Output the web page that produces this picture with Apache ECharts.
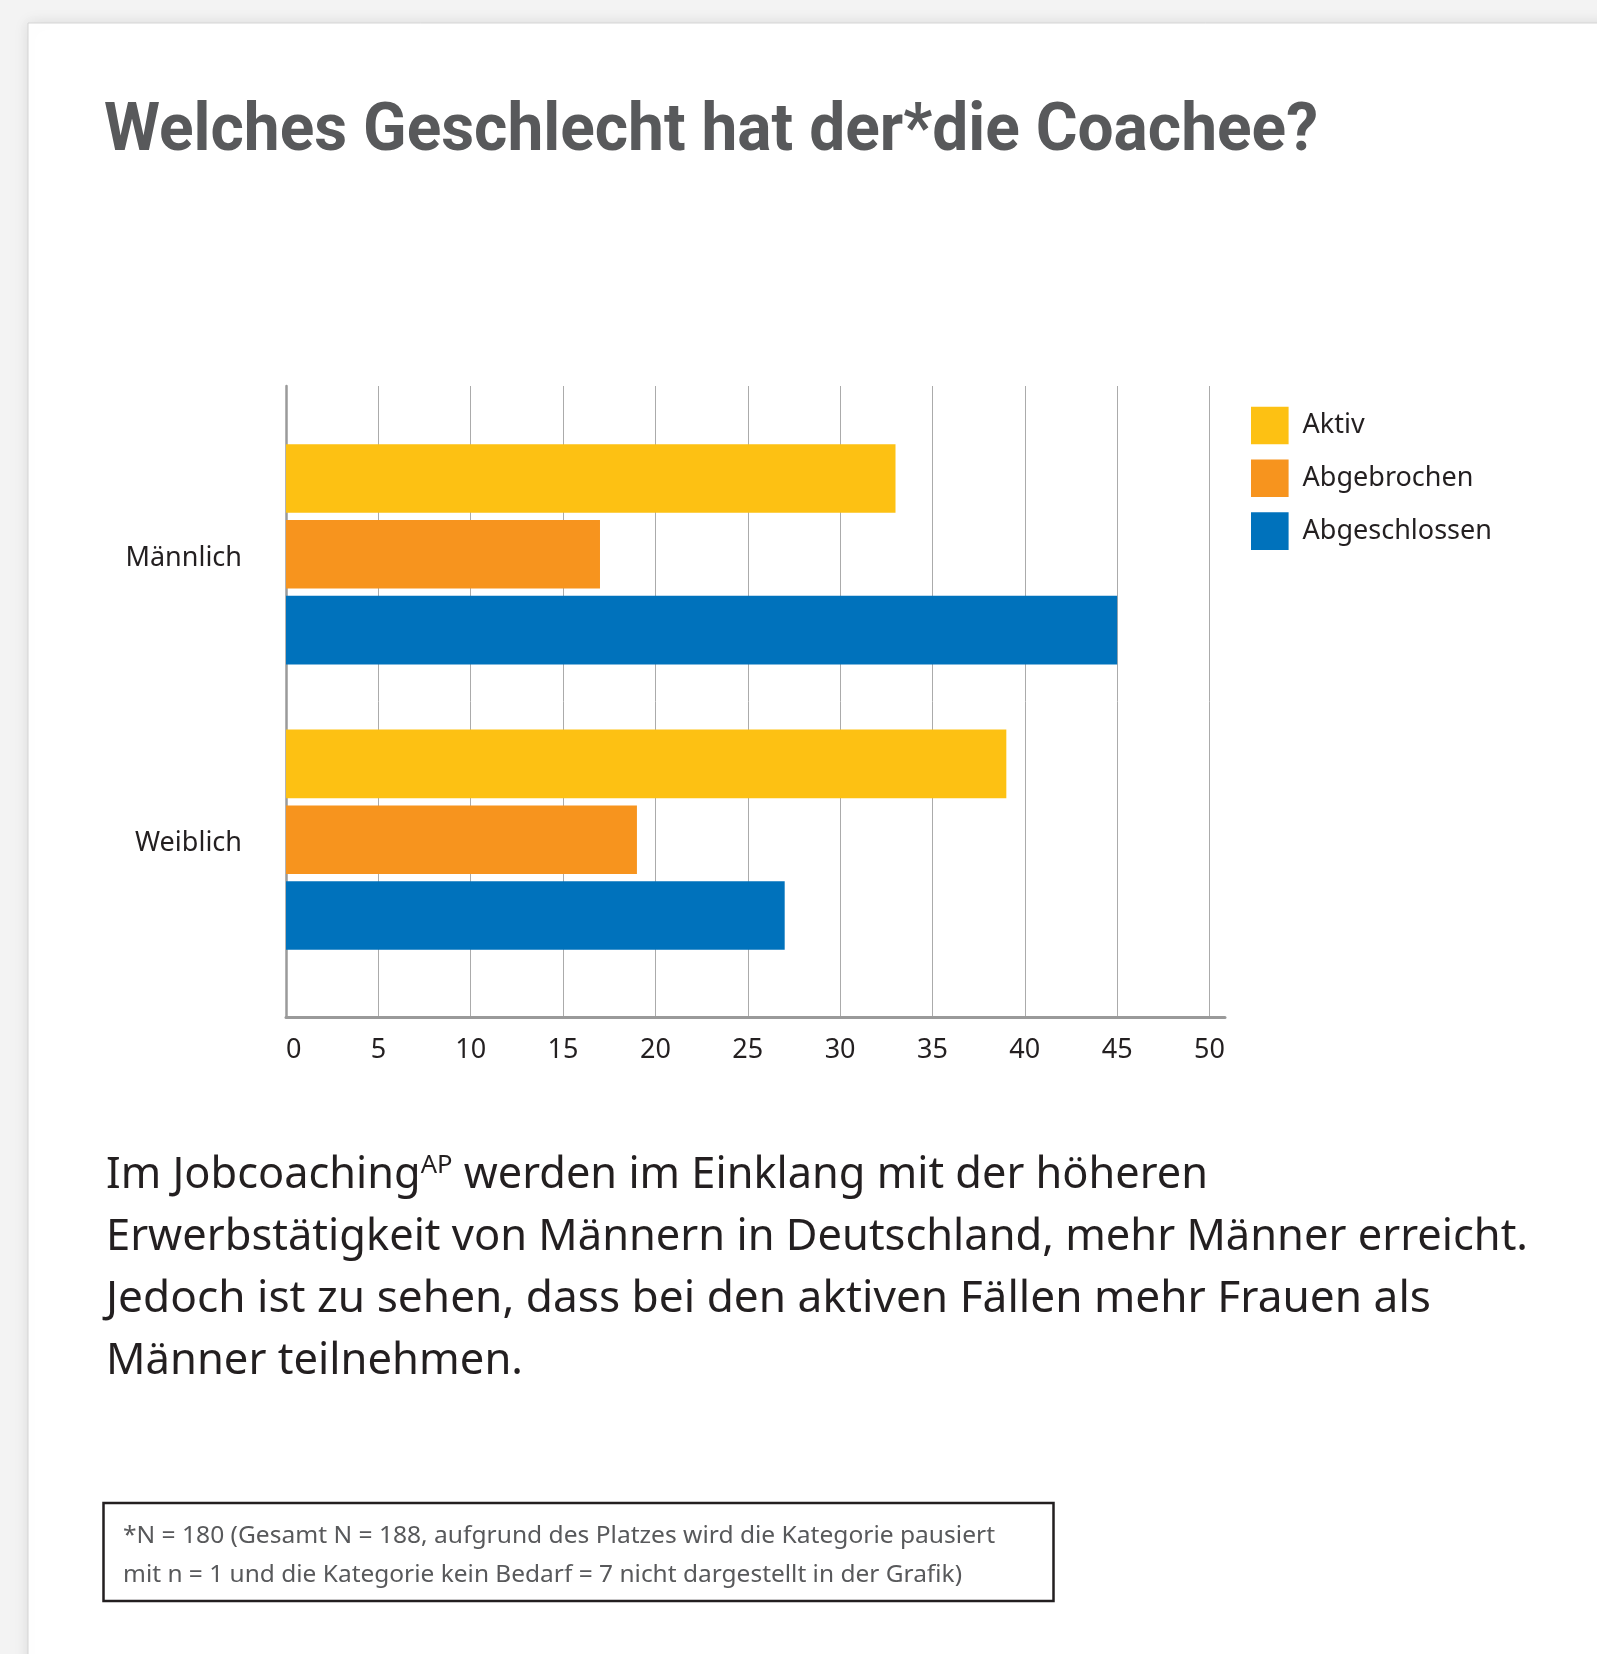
<!DOCTYPE html>
<html>
<head>
<meta charset="utf-8">
<title>Welches Geschlecht hat der*die Coachee?</title>
<script src="https://cdn.jsdelivr.net/npm/echarts@6/dist/echarts.min.js"></script>
<style>
  html, body { margin: 0; padding: 0; background: #f3f3f3; }
  #chart { width: 1597px; height: 1654px; }
</style>
</head>
<body>
<div id="chart"></div>
<script>
// Daten
const categories = ['Männlich', 'Weiblich']
const seriesNames = ['Aktiv', 'Abgebrochen', 'Abgeschlossen']
const aktiv = [33, 39]
const abgebrochen = [17, 19]
const abgeschlossen = [45, 27]
const xMin = 0
const xMax = 50
const xInterval = 5

// Texte
const titleText = 'Welches Geschlecht hat der*die Coachee?'
const bodyLines = [
  ['Im Jobcoaching', 'AP', ' werden im Einklang mit der höheren'],
  ['Erwerbstätigkeit von Männern in Deutschland, mehr Männer erreicht.'],
  ['Jedoch ist zu sehen, dass bei den aktiven Fällen mehr Frauen als'],
  ['Männer teilnehmen.']
]
const noteLines = [
  '*N = 180 (Gesamt N = 188, aufgrund des Platzes wird die Kategorie pausiert',
  'mit n = 1 und die Kategorie kein Bedarf = 7 nicht dargestellt in der Grafik)'
]

const colors = ['#fdc113', '#f7941e', '#0072bc']
const textDark = '#231f20'
const textGrey = '#58595b'
const FONT = "'Noto Sans', sans-serif"
const FONT_TITLE = 'Roboto, sans-serif'

// Layout
const gridLeft = 286
const valueEnd = 1209.5 // Position von 50
const axisEnd = 1225 // Achsenlinie läuft etwas weiter
const frameTop = 386
const frameBottom = 1017
const barsTop = 411.6
const barsBottom = 982.4

// Messen von Text
const ctx = document.createElement('canvas').getContext('2d')
function fontStr (size, family, weight) {
  return (weight || 'normal') + ' ' + size + 'px ' + family
}
function measure (str, font) {
  ctx.font = font
  ctx.textBaseline = 'alphabetic'
  return ctx.measureText(str).width
}
// Abstand von "middle" zur Grundlinie
function midOffset (font) {
  ctx.font = font
  ctx.textBaseline = 'middle'
  const m = ctx.measureText('H')
  ctx.textBaseline = 'alphabetic'
  return m.actualBoundingBoxDescent
}

function fitText (str, o) {
  const font = fontStr(o.size, o.family, o.weight)
  const w = measure(str, font)
  return {
    type: 'text',
    x: o.left,
    y: o.baseline - midOffset(font),
    scaleX: o.width / w,
    style: {
      text: str,
      x: 0,
      y: 0,
      fontSize: o.size,
      fontFamily: o.family,
      fontWeight: o.weight || 'normal',
      fill: o.color,
      align: 'left',
      verticalAlign: 'middle'
    }
  }
}

// Fließtext
const bodySize = 44
const supSize = 26
const bodyLeft = 106
const bodyBaselines = [1188.3, 1250, 1312, 1373.7]
const bodyWidths = [1102, 1422, 1325, 417]
const bodyLineHeight = 60

function bodyLine (parts, i) {
  if (parts.length === 1) {
    return fitText(parts[0], { left: bodyLeft, baseline: bodyBaselines[i], width: bodyWidths[i], size: bodySize, family: FONT, color: textDark })
  }
  // Zeile mit hochgestelltem "AP"
  const fb = fontStr(bodySize, FONT)
  const fs = fontStr(supSize, FONT)
  const w = measure(parts[0], fb) + measure(parts[1], fs) + measure(parts[2], fb)
  return {
    type: 'text',
    x: bodyLeft,
    y: bodyBaselines[i] - midOffset(fb),
    scaleX: bodyWidths[i] / w,
    style: {
      text: '{b|' + parts[0] + '}{s|' + parts[1] + '}{b|' + parts[2] + '}',
      x: 0,
      y: 0,
      align: 'left',
      verticalAlign: 'middle',
      rich: {
        b: { fontSize: bodySize, fontFamily: FONT, fill: textDark, lineHeight: bodyLineHeight, verticalAlign: 'middle' },
        s: { fontSize: supSize, fontFamily: FONT, fill: textDark, verticalAlign: 'top', padding: [7, 0, 0, 0] }
      }
    }
  }
}

const graphics = [
  // Karte
  {
    type: 'rect',
    z: -10,
    shape: { x: 28, y: 23, width: 1640, height: 1700 },
    style: { fill: '#ffffff', stroke: '#d4d4d4', lineWidth: 1, shadowBlur: 14, shadowColor: 'rgba(0,0,0,0.10)' }
  },
  fitText(titleText, { left: 104, baseline: 150, width: 1214, size: 67, family: FONT_TITLE, weight: 'bold', color: textGrey }),
  // Fußnote
  {
    type: 'rect',
    shape: { x: 103.5, y: 1503, width: 950, height: 98 },
    style: { fill: 'none', stroke: textDark, lineWidth: 2.5 }
  },
  fitText(noteLines[0], { left: 123, baseline: 1543, width: 872, size: 23, family: FONT, color: textGrey }),
  fitText(noteLines[1], { left: 123, baseline: 1582, width: 839, size: 23, family: FONT, color: textGrey })
].concat(bodyLines.map(bodyLine))

const frameMax = xMax * (axisEnd - gridLeft) / (valueEnd - gridLeft)

const chart = echarts.init(document.getElementById('chart'))
const option = {
  animation: false,
  backgroundColor: '#f3f3f3',
  textStyle: { fontFamily: FONT },
  legend: {
    orient: 'vertical',
    left: 1251,
    top: 406.7,
    padding: 0,
    itemWidth: 37.6,
    itemHeight: 37.6,
    itemGap: 15.2,
    icon: 'rect',
    selectedMode: false,
    data: seriesNames,
    textStyle: { fontSize: 27, color: textDark, fontFamily: FONT, lineHeight: 28, padding: [0, 0, 6, 9] }
  },
  grid: [
    // Rahmen mit Gitterlinien
    { left: gridLeft, top: frameTop, width: axisEnd - gridLeft, height: frameBottom - frameTop, outerBoundsMode: 'none', containLabel: false },
    // Balken
    { left: gridLeft, top: barsTop, width: valueEnd - gridLeft, height: barsBottom - barsTop, outerBoundsMode: 'none', containLabel: false }
  ],
  xAxis: [
    {
      gridIndex: 0,
      type: 'value',
      min: xMin,
      max: frameMax,
      interval: xInterval,
      axisLine: { show: true, lineStyle: { color: '#9a9a9a', width: 3 } },
      axisTick: { show: false },
      axisLabel: {
        fontSize: 27,
        lineHeight: 30,
        margin: 18,
        color: textDark,
        fontFamily: FONT,
        showMaxLabel: false,
        alignMinLabel: 'left',
        formatter: v => (v <= xMax && v % xInterval === 0) ? String(v) : ''
      },
      splitLine: { show: true, showMinLine: false, showMaxLine: false, lineStyle: { color: '#ababab', width: 1 } }
    },
    { gridIndex: 1, type: 'value', min: xMin, max: xMax, interval: xInterval, show: false }
  ],
  yAxis: [
    {
      gridIndex: 0,
      type: 'category',
      data: categories,
      inverse: true,
      axisLine: { show: true, lineStyle: { color: '#9a9a9a', width: 2.5 } },
      axisTick: { show: false },
      axisLabel: { show: false },
      splitLine: { show: false }
    },
    {
      gridIndex: 1,
      type: 'category',
      data: categories,
      inverse: true,
      axisLine: { show: false },
      axisTick: { show: false },
      splitLine: { show: false },
      axisLabel: { fontSize: 27, color: textDark, fontFamily: FONT, margin: 44, verticalAlign: 'top', lineHeight: 8 }
    }
  ],
  series: [aktiv, abgebrochen, abgeschlossen].map((d, i) => ({
    name: seriesNames[i],
    type: 'bar',
    xAxisIndex: 1,
    yAxisIndex: 1,
    data: d,
    barWidth: 68.6,
    barGap: '10.6%',
    itemStyle: { color: colors[i] }
  })),
  graphic: graphics
}
chart.setOption(option)
</script>
</body>
</html>
